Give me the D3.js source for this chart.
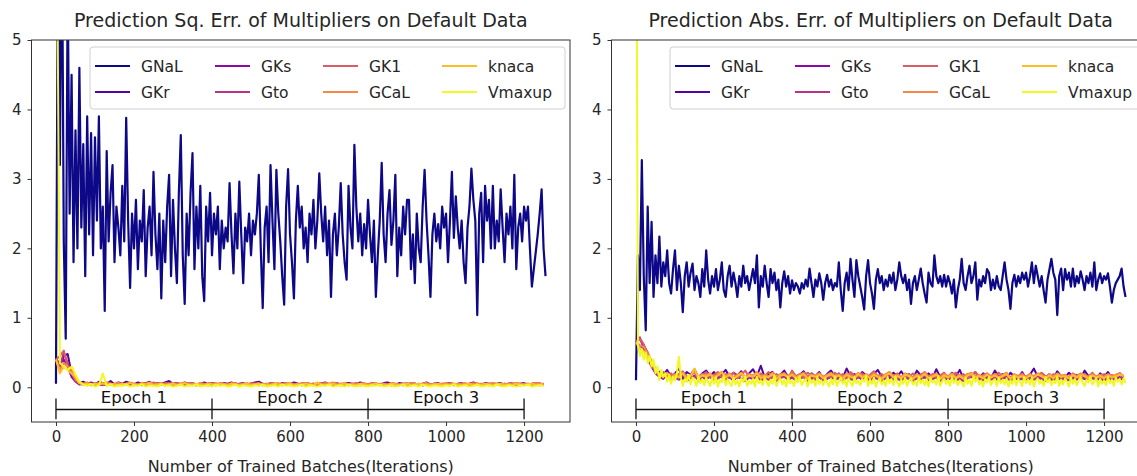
<!DOCTYPE html>
<html>
<head>
<meta charset="utf-8">
<script src="https://cdn.jsdelivr.net/npm/d3@7"></script>
<style>
  body { margin: 0; background: #fff; }
  text { font-family: "DejaVu Sans", sans-serif; fill: #262626; }
</style>
</head>
<body>
<div id="container"></div>
<script>
// ---- data ----
const names = ["GNaL", "GKr", "GKs", "Gto", "GK1", "GCaL", "knaca", "Vmaxup"];
const xTicks = [0, 200, 400, 600, 800, 1000, 1200];
const yTicks = [0, 1, 2, 3, 4, 5];
const epochs = ["Epoch 1", "Epoch 2", "Epoch 3"];
const epochBounds = [0, 400, 800, 1200];

// iteration index of each logged point
const iters5 = d3.range(0, 1256, 5);
const iters10 = d3.range(0, 1251, 10);

// squared error
const sqGNaL = [
  0.05,6.5,3.2,7.0,2.1,0.7,5.8,2.5,4.5,1.8, 3.7,2.0,4.6,2.3,3.5,1.6,3.9,2.2,3.66,1.9,
  3.6,2.4,3.9,2.0,2.6,1.1,3.4,2.1,2.8,3.2, 1.8,2.6,2.3,1.9,2.9,2.1,3.88,2.4,1.43,2.5,
  2.0,2.7,1.7,2.4,2.1,2.84,1.6,2.3,2.6,1.9, 3.1,2.2,1.7,2.5,1.28,2.4,1.8,2.6,3.06,1.6,
  2.7,2.0,1.5,2.8,3.63,1.9,1.2,2.5,1.9,2.8, 3.37,1.7,2.6,2.0,2.9,1.6,1.24,2.6,2.1,2.8,
  1.9,2.5,2.2,2.6,1.7,2.4,2.0,2.3,2.1,2.94, 2.2,1.64,2.5,2.0,2.96,2.2,1.5,2.3,2.1,2.5,
  1.9,2.4,2.2,2.5,3.06,2.0,1.14,2.3,2.6,1.8, 3.2,2.4,1.7,3.13,2.5,2.1,1.6,1.19,2.6,3.14,
  2.2,1.8,1.28,2.4,2.9,2.3,2.6,2.0,2.3,1.8, 2.5,2.2,2.7,2.0,2.4,3.08,2.5,2.1,2.6,1.9,
  2.4,1.3,2.2,2.5,1.9,2.3,2.94,2.2,1.8,1.55, 2.9,2.3,2.0,3.49,2.6,2.1,2.5,1.9,2.35,2.0,
  2.7,2.2,1.8,2.4,1.3,1.9,2.4,3.23,2.2,1.8, 2.5,2.84,2.05,2.4,3.06,1.6,2.3,1.9,2.6,2.2,
  2.7,2.7,1.7,2.2,1.5,2.5,2.0,1.8,2.6,3.13, 2.4,1.9,1.3,2.2,2.5,2.1,2.35,2.0,2.6,2.3,
  2.5,1.8,2.4,3.1,2.15,2.75,2.3,2.0,2.4,1.8, 1.5,2.3,2.6,3.15,2.7,2.4,1.04,2.5,2.8,1.8,
  2.9,2.4,2.7,2.0,2.9,2.0,2.4,2.1,2.85,2.3, 1.8,2.5,2.2,2.6,2.0,3.06,1.7,2.3,2.5,2.1,
  2.6,2.4,2.6,2.0,1.45,1.7,1.95,2.2,2.5,2.85, 2.0,1.6
];
const sqGKr = [
  .40,.30,.45,.48,.20,.12,.06,.08,.05,.07, .04,.08,.06,.05,.09,.04,.07,.05,.08,.06,
  .04,.07,.05,.06,.08,.04,.06,.05,.07,.09, .05,.06,.04,.07,.05,.06,.04,.05,.07,.04,
  .06,.05,.04,.06,.05,.07,.04,.05,.06,.04, .05,.07,.08,.05,.04,.06,.05,.04,.06,.05,
  .04,.07,.05,.04,.06,.05,.04,.06,.05,.07, .04,.05,.06,.04,.05,.06,.05,.04,.07,.05,
  .04,.06,.05,.04,.06,.07,.05,.04,.06,.05, .04,.06,.05,.04,.05,.07,.04,.05,.06,.04,
  .05,.06,.04,.05,.06,.04,.05,.07,.05,.04, .06,.05,.04,.05,.06,.04,.05,.06,.04,.05,
  .06,.04,.05,.06,.04,.05
];
const sqGKs = [
  .40,.35,.40,.30,.15,.08,.04,.05,.03,.04, .03,.05,.04,.03,.06,.03,.04,.03,.05,.04,
  .03,.04,.05,.03,.04,.03,.05,.04,.03,.06, .04,.03,.05,.04,.03,.04,.03,.05,.04,.03,
  .04,.05,.03,.04,.03,.05,.04,.03,.04,.03, .05,.04,.03,.04,.05,.03,.04,.03,.05,.04,
  .03,.04,.05,.03,.04,.03,.05,.04,.03,.04, .05,.03,.04,.03,.04,.05,.03,.04,.03,.05,
  .04,.03,.04,.05,.03,.04,.03,.04,.05,.03, .04,.03,.05,.04,.03,.04,.03,.05,.04,.03,
  .04,.05,.03,.04,.03,.04,.05,.03,.04,.03, .05,.04,.03,.04,.03,.05,.04,.03,.04,.03,
  .04,.05,.03,.04,.03,.04
];
const sqGto = [
  .40,.30,.50,.35,.20,.10,.05,.04,.06,.03, .05,.04,.03,.06,.04,.05,.03,.04,.06,.03,
  .04,.05,.03,.04,.06,.03,.05,.04,.03,.05, .03,.05,.04,.03,.05,.04,.03,.06,.04,.03,
  .05,.03,.04,.05,.03,.04,.06,.03,.04,.05, .03,.04,.05,.03,.04,.03,.05,.04,.03,.05,
  .04,.03,.05,.04,.03,.04,.05,.03,.04,.03, .05,.04,.03,.05,.04,.03,.04,.05,.03,.04,
  .03,.05,.04,.03,.04,.05,.03,.04,.03,.05, .04,.03,.04,.05,.03,.04,.03,.05,.04,.03,
  .05,.03,.04,.03,.05,.04,.03,.04,.05,.03, .04,.03,.05,.04,.03,.04,.05,.03,.04,.03,
  .05,.04,.03,.04,.05,.03
];
const sqGK1 = [
  .40,.45,.53,.30,.20,.10,.06,.05,.07,.04, .06,.05,.04,.07,.05,.04,.06,.05,.04,.06,
  .05,.04,.06,.05,.04,.07,.05,.04,.06,.05, .04,.06,.05,.04,.05,.06,.04,.05,.04,.06,
  .05,.04,.06,.05,.04,.05,.06,.04,.05,.04, .06,.05,.04,.05,.04,.06,.05,.04,.05,.06,
  .04,.05,.04,.06,.05,.04,.05,.04,.06,.05, .04,.05,.06,.04,.05,.04,.05,.06,.04,.05,
  .04,.06,.05,.04,.05,.04,.06,.05,.04,.05, .06,.04,.05,.04,.05,.06,.04,.05,.04,.05,
  .04,.06,.05,.04,.05,.04,.05,.06,.04,.05, .04,.05,.06,.04,.05,.04,.05,.04,.06,.05,
  .04,.05,.04,.05,.06,.04
];
const sqGCaL = [
  .40,.25,.35,.30,.25,.12,.07,.05,.06,.05, .04,.06,.05,.07,.04,.05,.06,.04,.05,.07,
  .05,.04,.06,.05,.07,.04,.05,.06,.04,.05, .06,.04,.05,.07,.04,.05,.04,.06,.05,.04,
  .05,.06,.04,.05,.04,.06,.05,.04,.05,.06, .04,.05,.06,.04,.05,.04,.05,.06,.04,.05,
  .06,.04,.05,.04,.06,.05,.04,.05,.04,.06, .05,.07,.04,.05,.06,.04,.05,.04,.05,.06,
  .04,.05,.06,.04,.05,.04,.06,.05,.04,.05, .04,.06,.05,.04,.05,.06,.04,.05,.04,.05,
  .06,.04,.05,.04,.05,.06,.04,.05,.06,.04, .05,.04,.06,.05,.04,.05,.04,.06,.05,.04,
  .05,.04,.05,.06,.04,.05
];
const sqKnaca = [
  .40,.20,.30,.25,.20,.15,.06,.04,.05,.03, .05,.04,.06,.03,.05,.04,.03,.05,.04,.06,
  .04,.03,.05,.04,.06,.03,.04,.05,.03,.04, .05,.03,.04,.06,.04,.03,.05,.04,.03,.05,
  .04,.03,.05,.04,.03,.05,.04,.03,.04,.05, .03,.04,.05,.03,.04,.03,.05,.04,.03,.04,
  .05,.03,.04,.03,.05,.04,.03,.07,.04,.03, .04,.05,.03,.04,.05,.03,.04,.03,.05,.04,
  .03,.04,.05,.03,.04,.03,.05,.04,.03,.04, .05,.03,.04,.05,.03,.04,.03,.04,.05,.03,
  .04,.03,.05,.04,.03,.04,.05,.03,.04,.03, .05,.04,.03,.04,.05,.03,.04,.03,.05,.04,
  .03,.04,.05,.03,.04,.04
];
const sqVmaxup = [
  9.0,.35,.30,.25,.30,.18,.08,.04,.02,.05, .01,.03,.20,.02,.04,.01,.03,.02,.04,.01,
  .03,.02,.04,.01,.03,.02,.01,.04,.02,.03, .01,.02,.04,.01,.03,.02,.04,.01,.02,.03,
  .01,.04,.02,.03,.01,.02,.04,.01,.03,.02, .01,.03,.02,.04,.01,.02,.03,.01,.04,.02,
  .03,.01,.02,.04,.01,.03,.02,.01,.03,.02, .04,.01,.02,.03,.01,.04,.02,.01,.03,.02,
  .01,.03,.02,.04,.01,.02,.03,.01,.02,.04, .01,.02,.03,.01,.04,.02,.01,.03,.02,.01,
  .03,.02,.04,.01,.02,.03,.01,.02,.04,.01, .02,.03,.01,.04,.02,.01,.03,.02,.01,.03,
  .02,.04,.01,.02,.03,.02
];

// absolute error
const absGNaL = [
  0.1,1.9,1.4,3.27,1.6,0.82,2.6,1.5,2.38,1.3, 1.9,1.5,2.17,1.45,1.8,1.6,1.97,1.5,1.35,1.7,
  1.97,1.4,1.75,1.5,1.08,1.6,1.8,1.45,1.65,1.78, 1.4,1.6,1.5,1.3,1.7,1.45,1.97,1.55,1.35,1.6,
  1.45,1.7,1.4,1.55,1.8,1.4,1.3,1.6,1.75,1.45, 1.65,1.5,1.3,1.6,1.45,1.75,1.5,1.6,1.4,1.55,
  1.7,1.5,1.9,1.15,1.6,1.45,1.75,1.5,1.3,1.7, 1.5,1.65,1.4,1.55,1.15,1.5,1.67,1.45,1.6,1.35,
  1.54,1.4,1.5,1.45,1.35,1.5,1.42,1.55,1.45,1.71, 1.5,1.3,1.55,1.45,1.64,1.5,1.26,1.5,1.62,1.45,
  1.55,1.4,1.5,1.45,1.8,1.4,1.1,1.5,1.65,1.4, 1.85,1.55,1.3,1.83,1.6,1.45,1.3,1.12,1.6,1.83,
  1.5,1.35,1.13,1.55,1.7,1.5,1.6,1.4,1.55,1.45, 1.62,1.5,1.65,1.4,1.55,1.8,1.6,1.5,1.62,1.4,
  1.55,1.2,1.5,1.6,1.4,1.55,1.71,1.5,1.35,1.22, 1.65,1.5,1.45,1.9,1.6,1.5,1.6,1.45,1.62,1.45,
  1.6,1.5,1.35,1.55,1.15,1.4,1.55,1.85,1.5,1.4, 1.6,1.75,1.5,1.6,1.8,1.26,1.55,1.45,1.6,1.5,
  1.7,1.65,1.4,1.55,1.42,1.6,1.45,1.4,1.6,1.8, 1.55,1.4,1.13,1.5,1.62,1.45,1.6,1.5,1.65,1.55,
  1.65,1.45,1.6,1.8,1.5,1.75,1.6,1.45,1.6,1.4, 1.22,1.55,1.7,1.85,1.65,1.55,1.04,1.6,1.71,1.4,
  1.7,1.55,1.65,1.45,1.71,1.45,1.6,1.5,1.67,1.55, 1.4,1.6,1.5,1.65,1.45,1.8,1.4,1.55,1.64,1.5,
  1.6,1.55,1.64,1.45,1.22,1.4,1.5,1.55,1.6,1.71, 1.45,1.3
];
const absGKr = [
  .65,.70,.60,.50,.35,.25,.22,.18,.25,.15, .20,.27,.12,.22,.18,.26,.14,.20,.24,.16,
  .22,.13,.19,.25,.15,.21,.17,.23,.12,.20, .26,.16,.31,.14,.19,.22,.13,.18,.24,.15,
  .21,.12,.18,.23,.14,.20,.16,.22,.11,.19, .24,.15,.20,.13,.27,.16,.19,.14,.22,.17,
  .12,.20,.25,.15,.18,.13,.21,.16,.23,.14, .19,.12,.24,.17,.14,.20,.13,.26,.15,.18,
  .14,.21,.16,.25,.12,.19,.15,.22,.13,.20, .17,.13,.24,.15,.19,.12,.21,.16,.14,.22,
  .13,.18,.27,.15,.20,.14,.19,.12,.23,.16, .14,.21,.15,.18,.13,.24,.16,.19,.12,.20,
  .15,.22,.13,.17,.20,.14
];
const absGKs = [
  .65,.60,.55,.45,.30,.20,.15,.12,.18,.10, .14,.11,.16,.09,.13,.17,.10,.14,.12,.15,
  .09,.13,.16,.11,.14,.10,.15,.12,.09,.14, .12,.16,.10,.13,.11,.15,.09,.13,.16,.11,
  .14,.10,.12,.15,.09,.13,.11,.14,.10,.12, .15,.11,.13,.09,.14,.12,.10,.15,.11,.13,
  .10,.14,.12,.09,.13,.16,.11,.12,.10,.14, .12,.09,.13,.11,.15,.10,.12,.14,.09,.13,
  .11,.14,.10,.12,.09,.13,.15,.11,.12,.10, .14,.11,.13,.10,.12,.15,.09,.13,.11,.12,
  .10,.13,.11,.14,.12,.09,.13,.10,.14,.11, .12,.10,.13,.11,.14,.12,.10,.13,.11,.12,
  .10,.13,.11,.12,.14,.10
];
const absGto = [
  .65,.72,.55,.40,.30,.22,.16,.13,.17,.12, .15,.12,.18,.10,.14,.16,.11,.15,.13,.17,
  .11,.14,.17,.12,.15,.11,.16,.13,.10,.15, .13,.17,.11,.14,.12,.16,.10,.14,.15,.12,
  .15,.11,.13,.16,.10,.14,.12,.15,.11,.13, .16,.12,.14,.10,.15,.13,.11,.16,.12,.14,
  .11,.15,.13,.10,.14,.17,.12,.13,.11,.15, .13,.10,.14,.12,.16,.11,.13,.15,.10,.14,
  .12,.15,.11,.13,.10,.14,.16,.12,.13,.11, .15,.12,.14,.11,.13,.16,.10,.14,.12,.13,
  .11,.14,.12,.15,.13,.10,.14,.11,.15,.12, .13,.11,.14,.12,.15,.13,.11,.14,.12,.13,
  .11,.14,.12,.13,.15,.11
];
const absGK1 = [
  .65,.70,.62,.45,.32,.24,.18,.22,.16,.20, .14,.19,.23,.15,.18,.21,.13,.17,.22,.14,
  .18,.22,.14,.19,.16,.21,.13,.18,.24,.15, .17,.13,.20,.16,.22,.14,.19,.15,.21,.13,
  .24,.16,.19,.14,.21,.17,.13,.20,.15,.18, .14,.21,.16,.19,.13,.22,.17,.15,.20,.14,
  .18,.23,.15,.19,.14,.21,.16,.20,.13,.18, .15,.20,.14,.18,.22,.16,.19,.13,.17,.21,
  .14,.18,.21,.15,.19,.13,.17,.22,.15,.18, .20,.14,.17,.21,.15,.19,.13,.18,.16,.20,
  .15,.19,.14,.18,.21,.16,.13,.19,.17,.15, .18,.14,.20,.16,.13,.19,.15,.21,.14,.17,
  .19,.15,.18,.14,.20,.16
];
const absGCaL = [
  .65,.60,.58,.50,.38,.26,.20,.17,.21,.15, .19,.16,.21,.14,.18,.22,.15,.19,.17,.20,
  .15,.19,.22,.16,.20,.14,.18,.21,.15,.19, .17,.22,.15,.18,.16,.21,.14,.19,.20,.16,
  .20,.15,.18,.21,.14,.19,.17,.20,.15,.18, .21,.16,.19,.14,.20,.17,.15,.21,.16,.19,
  .15,.20,.17,.14,.19,.22,.16,.18,.15,.20, .18,.14,.19,.16,.21,.15,.17,.20,.14,.19,
  .16,.20,.15,.18,.14,.19,.21,.16,.18,.15, .20,.16,.19,.15,.18,.21,.14,.19,.16,.18,
  .15,.19,.16,.20,.18,.14,.19,.15,.20,.17, .18,.15,.19,.16,.20,.18,.15,.19,.16,.18,
  .15,.19,.16,.18,.20,.15
];
const absKnaca = [
  .65,.55,.52,.45,.35,.26,.18,.15,.20,.13, .17,.14,.20,.12,.16,.27,.13,.17,.15,.19,
  .13,.17,.21,.14,.18,.12,.16,.20,.13,.17, .15,.20,.13,.16,.14,.19,.12,.17,.18,.14,
  .18,.13,.16,.19,.12,.17,.15,.18,.13,.16, .19,.14,.17,.12,.18,.15,.13,.19,.14,.17,
  .13,.18,.15,.12,.17,.20,.14,.16,.13,.18, .16,.12,.17,.14,.19,.13,.15,.18,.12,.17,
  .14,.18,.13,.16,.12,.17,.19,.14,.16,.13, .18,.14,.17,.13,.16,.19,.12,.17,.14,.16,
  .13,.17,.14,.18,.16,.12,.17,.13,.18,.15, .16,.13,.17,.14,.18,.16,.13,.17,.14,.16,
  .13,.17,.14,.16,.18,.17
];
const absVmaxup = [
  9.0,.60,.45,.55,.40,.50,.35,.45,.30,.40, .20,.30,.10,.25,.15,.20,.08,.18,.05,.15,
  .10,.20,.44,.15,.02,.12,.08,.18,.04,.14, .10,.02,.16,.06,.12,.03,.14,.08,.02,.13,
  .05,.15,.01,.11,.07,.17,.03,.12,.06,.02, .14,.04,.10,.01,.13,.07,.16,.02,.09,.05,
  .12,.01,.15,.06,.10,.03,.14,.08,.02,.11, .05,.17,.02,.09,.13,.04,.11,.01,.15,.06,
  .10,.02,.13,.07,.16,.03,.09,.12,.01,.14, .06,.11,.02,.15,.05,.10,.03,.13,.07,.01,
  .12,.04,.16,.02,.09,.14,.05,.11,.01,.13, .07,.02,.15,.06,.10,.03,.12,.08,.17,.02,
  .11,.05,.14,.01,.09,.13,.04,.10,.02,.15, .06,.12,.03,.16,.07,.01,.11,.05,.14,.02,
  .10,.13,.04,.09,.02,.15,.06,.11,.03,.12, .01,.14,.07,.10,.04,.16,.02,.09,.13,.05,
  .11,.02,.15,.06,.12,.03,.10,.07,.01,.14, .05,.11,.02,.16,.08,.13,.04,.10,.01,.12,
  .07,.15,.03,.09,.12,.02,.14,.06,.11,.04, .13,.01,.10,.05,.16,.03,.12,.08,.02,.15,
  .06,.11,.04,.14,.01,.09,.13,.05,.10,.02, .15,.07,.12,.03,.10,.06,.16,.02,.11,.04,
  .13,.08,.01,.14,.05,.12,.03,.10,.15,.06, .02,.11,.07,.16,.04,.09,.13,.01,.12,.05,
  .10,.03,.15,.06,.11,.02,.14,.08,.12,.04, .13,.06
];

// ---- layout ----
const WIDTH = 1137, HEIGHT = 476;
const TOP = 40, BOTTOM = 422;

const panels = [
  {
    title: "Prediction Sq. Err. of Multipliers on Default Data",
    left: 31.5, right: 570, legendX: 90,
    series: [
      [sqGNaL, iters5], [sqGKr, iters10], [sqGKs, iters10], [sqGto, iters10],
      [sqGK1, iters10], [sqGCaL, iters10], [sqKnaca, iters10], [sqVmaxup, iters10]
    ]
  },
  {
    title: "Prediction Abs. Err. of Multipliers on Default Data",
    left: 611.5, right: 1150, legendX: 670,
    series: [
      [absGNaL, iters5], [absGKr, iters10], [absGKs, iters10], [absGto, iters10],
      [absGK1, iters10], [absGCaL, iters10], [absKnaca, iters10], [absVmaxup, iters5]
    ]
  }
];

const color = (i) => d3.interpolatePlasma(i / 7);

let svg = d3.select("#container")
  .append("svg")
  .attr("width", WIDTH)
  .attr("height", HEIGHT);

panels.forEach(function (p, pi) {
  const x = d3.scaleLinear().domain([-62.75, 1317.75]).range([p.left, p.right]);
  const y = d3.scaleLinear().domain([-0.5, 5]).range([BOTTOM, TOP]);
  const g = svg.append("g");

  const clipId = "clip" + pi;
  g.append("clipPath").attr("id", clipId)
    .append("rect")
    .attr("x", p.left).attr("y", TOP)
    .attr("width", p.right - p.left).attr("height", BOTTOM - TOP);

  // lines
  const plot = g.append("g").attr("clip-path", "url(#" + clipId + ")");
  p.series.forEach(function (s, i) {
    const vals = s[0], its = s[1];
    const line = d3.line()
      .x((d, k) => x(its[k]))
      .y((d) => y(d));
    plot.append("path")
      .datum(vals)
      .attr("fill", "none")
      .attr("stroke", color(i))
      .attr("stroke-width", i === 0 ? 2.2 : 2)
      .attr("stroke-linejoin", "round")
      .attr("d", line);
  });

  // epoch brackets
  const ep = g.append("g").attr("stroke", "#111").attr("stroke-width", 1.3);
  ep.append("line")
    .attr("x1", x(epochBounds[0])).attr("x2", x(epochBounds[3]))
    .attr("y1", y(-0.32)).attr("y2", y(-0.32));
  ep.selectAll(".etick")
    .data(epochBounds)
    .enter().append("line")
    .attr("x1", (d) => x(d)).attr("x2", (d) => x(d))
    .attr("y1", y(-0.16)).attr("y2", y(-0.46));
  g.selectAll(".elabel")
    .data(epochs)
    .enter().append("text")
    .attr("x", (d, i) => x((epochBounds[i] + epochBounds[i + 1]) / 2))
    .attr("y", y(-0.23))
    .attr("text-anchor", "middle")
    .style("font-size", "16.5px")
    .style("fill", "#111")
    .text((d) => d);

  // axes
  const xAxis = g.append("g")
    .attr("transform", "translate(0," + BOTTOM + ")")
    .call(d3.axisBottom(x).tickValues(xTicks).tickFormat(d3.format("d"))
      .tickSize(4).tickPadding(5).tickSizeOuter(0));
  const yAxis = g.append("g")
    .attr("transform", "translate(" + p.left + ",0)")
    .call(d3.axisLeft(y).tickValues(yTicks).tickFormat(d3.format("d"))
      .tickSize(4).tickPadding(6).tickSizeOuter(0));
  [xAxis, yAxis].forEach(function (a) {
    a.select(".domain").remove();
    a.selectAll(".tick line").attr("stroke", "#333");
    a.selectAll(".tick text")
      .style("font-size", "15px")
      .style("font-family", "DejaVu Sans, sans-serif")
      .attr("fill", "#262626");
  });

  // frame
  g.append("rect")
    .attr("x", p.left).attr("y", TOP)
    .attr("width", p.right - p.left).attr("height", BOTTOM - TOP)
    .attr("fill", "none").attr("stroke", "#333").attr("stroke-width", 1);

  // titles
  g.append("text")
    .attr("x", (p.left + p.right) / 2).attr("y", 27)
    .attr("text-anchor", "middle")
    .style("font-size", "19px")
    .text(p.title);
  g.append("text")
    .attr("x", (p.left + p.right) / 2).attr("y", 472)
    .attr("text-anchor", "middle")
    .style("font-size", "16px")
    .text("Number of Trained Batches(Iterations)");

  // legend
  const lg = g.append("g").attr("transform", "translate(" + p.legendX + ",47)");
  lg.append("rect")
    .attr("width", 475).attr("height", 62).attr("rx", 3)
    .attr("fill", "#fff").attr("fill-opacity", 0.8)
    .attr("stroke", "#d0d0d0");
  const colX = [5, 125, 233, 352];
  names.forEach(function (n, i) {
    const cx = colX[Math.floor(i / 2)];
    const cy = 19 + (i % 2) * 26;
    lg.append("line")
      .attr("x1", cx).attr("x2", cx + 35)
      .attr("y1", cy).attr("y2", cy)
      .attr("stroke", color(i)).attr("stroke-width", 2);
    lg.append("text")
      .attr("x", cx + 46).attr("y", cy + 5.5)
      .style("font-size", "15.5px")
      .text(n);
  });
});
</script>
</body>
</html>
